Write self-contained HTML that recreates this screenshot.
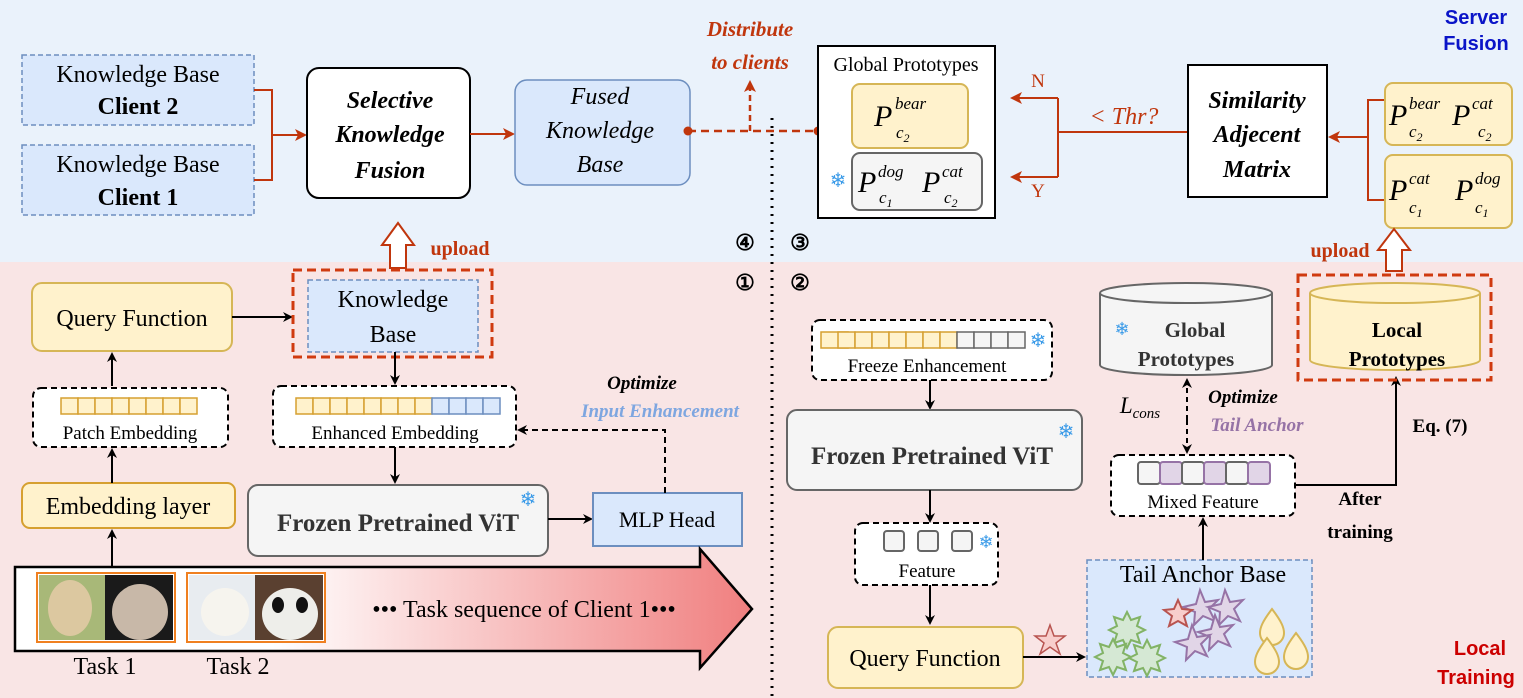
<!DOCTYPE html>
<html><head><meta charset="utf-8"><style>
body{margin:0;width:1523px;height:698px;overflow:hidden;background:#fff}
svg{display:block}
text{font-family:"Liberation Serif",serif}
.s{font-family:"Liberation Sans",sans-serif}
.P{font-size:30px;font-style:italic}
.sp{font-size:17px;font-style:italic}
</style></head><body>
<svg width="1523" height="698" viewBox="0 0 1523 698" xmlns="http://www.w3.org/2000/svg">
<defs>
<marker id="ab" markerWidth="10" markerHeight="10" refX="8" refY="5" orient="auto" markerUnits="userSpaceOnUse"><path d="M0,0 L10,5 L0,10 L3,5z" fill="#000"/></marker>
<marker id="ao" markerWidth="12" markerHeight="12" refX="10" refY="6" orient="auto" markerUnits="userSpaceOnUse"><path d="M0,0 L12,6 L0,12 L3,6z" fill="#c0360d"/></marker>
<linearGradient id="g" x1="0" x2="1"><stop offset="0.35" stop-color="#fff"/><stop offset="1" stop-color="#f07f7f"/></linearGradient>
</defs>
<rect x="0" y="0" width="1523" height="262" fill="#eaf2fb"/>
<rect x="0" y="262" width="1523" height="436" fill="#f9e5e5"/>
<text x="1476" y="24" class="s" font-size="20" font-weight="bold" fill="#0a14c8" text-anchor="middle">Server</text>
<text x="1476" y="50" class="s" font-size="20" font-weight="bold" fill="#0a14c8" text-anchor="middle">Fusion</text>
<text x="1480" y="655" class="s" font-size="20" font-weight="bold" fill="#cc0000" text-anchor="middle">Local</text>
<text x="1476" y="684" class="s" font-size="20" font-weight="bold" fill="#cc0000" text-anchor="middle">Training</text>

<rect x="22" y="55" width="232" height="70" fill="#dae8fc" stroke="#6c8ebf" stroke-width="1.5" stroke-dasharray="5,3"/>
<text x="138" y="82" font-size="24" text-anchor="middle">Knowledge Base</text>
<text x="138" y="114" font-size="24" font-weight="bold" text-anchor="middle">Client 2</text>
<rect x="22" y="145" width="232" height="70" fill="#dae8fc" stroke="#6c8ebf" stroke-width="1.5" stroke-dasharray="5,3"/>
<text x="138" y="172" font-size="24" text-anchor="middle">Knowledge Base</text>
<text x="138" y="205" font-size="24" font-weight="bold" text-anchor="middle">Client 1</text>
<path d="M254,90 H272 V180 H254 M272,135 H305" fill="none" stroke="#c0360d" stroke-width="2" marker-end="url(#ao)"/>
<rect x="307" y="68" width="163" height="130" rx="12" fill="#fff" stroke="#000" stroke-width="2"/>
<text x="390" y="108" font-size="24" font-weight="bold" font-style="italic" text-anchor="middle">Selective</text>
<text x="390" y="142" font-size="24" font-weight="bold" font-style="italic" text-anchor="middle">Knowledge</text>
<text x="390" y="178" font-size="24" font-weight="bold" font-style="italic" text-anchor="middle">Fusion</text>
<line x1="470" y1="134" x2="513" y2="134" stroke="#c0360d" stroke-width="2" marker-end="url(#ao)"/>
<rect x="515" y="80" width="175" height="105" rx="12" fill="#dae8fc" stroke="#6c8ebf" stroke-width="1.5"/>
<text x="600" y="104" font-size="24" font-style="italic" text-anchor="middle">Fused</text>
<text x="600" y="138" font-size="24" font-style="italic" text-anchor="middle">Knowledge</text>
<text x="600" y="172" font-size="24" font-style="italic" text-anchor="middle">Base</text>
<line x1="688" y1="131" x2="818" y2="131" stroke="#c0360d" stroke-width="2.5" stroke-dasharray="8,5"/>
<circle cx="688" cy="131" r="4.5" fill="#c0360d"/><circle cx="818" cy="131" r="4.5" fill="#c0360d"/>
<line x1="750" y1="131" x2="750" y2="82" stroke="#c0360d" stroke-width="2.5" stroke-dasharray="6,4" marker-end="url(#ao)"/>
<text x="750" y="36" font-size="21" font-weight="bold" font-style="italic" fill="#c0360d" text-anchor="middle">Distribute</text>
<text x="750" y="69" font-size="21" font-weight="bold" font-style="italic" fill="#c0360d" text-anchor="middle">to clients</text>

<rect x="818" y="46" width="177" height="172" fill="#fff" stroke="#000" stroke-width="2"/>
<text x="906" y="71" font-size="20" text-anchor="middle">Global Prototypes</text>
<rect x="852" y="84" width="116" height="64" rx="8" fill="#fff2cc" stroke="#d6b656" stroke-width="2"/>
<text x="874" y="126" class="P">P</text><text x="895" y="109" class="sp">bear</text><text x="896" y="138" class="sp">c<tspan font-size="12" dy="4">2</tspan></text>
<rect x="852" y="153" width="130" height="57" rx="8" fill="#f5f5f5" stroke="#666" stroke-width="2"/>
<text x="838" y="187" font-size="20" fill="#3b9be8" text-anchor="middle">❄</text>
<text x="858" y="192" class="P">P</text><text x="878" y="177" class="sp">dog</text><text x="879" y="203" class="sp">c<tspan font-size="12" dy="4">1</tspan></text>
<text x="922" y="192" class="P">P</text><text x="942" y="177" class="sp">cat</text><text x="944" y="203" class="sp">c<tspan font-size="12" dy="4">2</tspan></text>
<path d="M1188,132 H1058 M1058,98 V177" fill="none" stroke="#c0360d" stroke-width="2"/>
<line x1="1058" y1="98" x2="1012" y2="98" stroke="#c0360d" stroke-width="2" marker-end="url(#ao)"/>
<line x1="1058" y1="177" x2="1012" y2="177" stroke="#c0360d" stroke-width="2" marker-end="url(#ao)"/>
<text x="1038" y="87" font-size="19" fill="#c0360d" text-anchor="middle">N</text>
<text x="1038" y="197" font-size="19" fill="#c0360d" text-anchor="middle">Y</text>
<text x="1124" y="124" font-size="24" font-style="italic" fill="#c0360d" text-anchor="middle">&lt; Thr?</text>
<rect x="1188" y="65" width="139" height="132" fill="#fff" stroke="#000" stroke-width="2"/>
<text x="1257" y="108" font-size="24" font-weight="bold" font-style="italic" text-anchor="middle">Similarity</text>
<text x="1257" y="142" font-size="24" font-weight="bold" font-style="italic" text-anchor="middle">Adjecent</text>
<text x="1257" y="177" font-size="24" font-weight="bold" font-style="italic" text-anchor="middle">Matrix</text>
<path d="M1385,100 H1368 V200 H1385 M1368,137 H1330" fill="none" stroke="#c0360d" stroke-width="2" marker-end="url(#ao)"/>
<rect x="1385" y="83" width="127" height="62" rx="8" fill="#fff2cc" stroke="#d6b656" stroke-width="2"/>
<text x="1389" y="125" class="P">P</text><text x="1409" y="109" class="sp">bear</text><text x="1409" y="137" class="sp">c<tspan font-size="12" dy="4">2</tspan></text>
<text x="1452" y="125" class="P">P</text><text x="1472" y="109" class="sp">cat</text><text x="1478" y="137" class="sp">c<tspan font-size="12" dy="4">2</tspan></text>
<rect x="1385" y="155" width="127" height="73" rx="8" fill="#fff2cc" stroke="#d6b656" stroke-width="2"/>
<text x="1389" y="200" class="P">P</text><text x="1409" y="184" class="sp">cat</text><text x="1409" y="213" class="sp">c<tspan font-size="12" dy="4">1</tspan></text>
<text x="1455" y="200" class="P">P</text><text x="1475" y="184" class="sp">dog</text><text x="1475" y="213" class="sp">c<tspan font-size="12" dy="4">1</tspan></text>

<path d="M390,268 V245 H382 L398,223 L414,245 H406 V268 Z" fill="#fff" stroke="#c0360d" stroke-width="2"/>
<text x="460" y="255" font-size="20" font-weight="bold" fill="#c0360d" text-anchor="middle">upload</text>
<path d="M1386,271 V250 H1378 L1394,229 L1410,250 H1402 V271 Z" fill="#fff" stroke="#c0360d" stroke-width="2"/>
<text x="1340" y="257" font-size="20" font-weight="bold" fill="#c0360d" text-anchor="middle">upload</text>

<line x1="772" y1="118" x2="772" y2="698" stroke="#000" stroke-width="3" stroke-dasharray="2,6"/>
<text x="745" y="250" font-size="22" font-weight="bold" text-anchor="middle">④</text>
<text x="800" y="250" font-size="22" font-weight="bold" text-anchor="middle">③</text>
<text x="745" y="290" font-size="22" font-weight="bold" text-anchor="middle">①</text>
<text x="800" y="290" font-size="22" font-weight="bold" text-anchor="middle">②</text>

<rect x="32" y="283" width="200" height="68" rx="10" fill="#fff2cc" stroke="#d6b656" stroke-width="2"/>
<text x="132" y="326" font-size="24" text-anchor="middle">Query Function</text>
<line x1="232" y1="317" x2="291" y2="317" stroke="#000" stroke-width="2" marker-end="url(#ab)"/>
<rect x="293" y="270" width="199" height="87" fill="none" stroke="#d03a10" stroke-width="3" stroke-dasharray="9,5"/>
<rect x="308" y="280" width="170" height="72" fill="#dae8fc" stroke="#6c8ebf" stroke-width="1.5" stroke-dasharray="5,3"/>
<text x="393" y="307" font-size="24" text-anchor="middle">Knowledge</text>
<text x="393" y="342" font-size="24" text-anchor="middle">Base</text>
<rect x="33" y="388" width="195" height="59" rx="8" fill="#fff" stroke="#000" stroke-width="2" stroke-dasharray="6,4"/>
<g fill="#fff2cc" stroke="#d6a030" stroke-width="1.5">
<rect x="61" y="398" width="17" height="16"/><rect x="78" y="398" width="17" height="16"/><rect x="95" y="398" width="17" height="16"/><rect x="112" y="398" width="17" height="16"/><rect x="129" y="398" width="17" height="16"/><rect x="146" y="398" width="17" height="16"/><rect x="163" y="398" width="17" height="16"/><rect x="180" y="398" width="17" height="16"/></g>
<text x="130" y="439" font-size="19" text-anchor="middle">Patch Embedding</text>
<line x1="112" y1="386" x2="112" y2="354" stroke="#000" stroke-width="2" marker-end="url(#ab)"/>
<rect x="22" y="483" width="213" height="45" rx="8" fill="#fff2cc" stroke="#d6a030" stroke-width="2"/>
<text x="128" y="514" font-size="24" text-anchor="middle">Embedding layer</text>
<line x1="112" y1="483" x2="112" y2="450" stroke="#000" stroke-width="2" marker-end="url(#ab)"/>
<line x1="112" y1="566" x2="112" y2="531" stroke="#000" stroke-width="2" marker-end="url(#ab)"/>
<line x1="395" y1="352" x2="395" y2="383" stroke="#000" stroke-width="2" marker-end="url(#ab)"/>
<rect x="273" y="386" width="243" height="61" rx="8" fill="#fff" stroke="#000" stroke-width="2" stroke-dasharray="6,4"/>
<g stroke-width="1.5"><g fill="#fff2cc" stroke="#d6a030">
<rect x="296" y="398" width="17" height="16"/><rect x="313" y="398" width="17" height="16"/><rect x="330" y="398" width="17" height="16"/><rect x="347" y="398" width="17" height="16"/><rect x="364" y="398" width="17" height="16"/><rect x="381" y="398" width="17" height="16"/><rect x="398" y="398" width="17" height="16"/><rect x="415" y="398" width="17" height="16"/></g>
<g fill="#dae8fc" stroke="#6c8ebf"><rect x="432" y="398" width="17" height="16"/><rect x="449" y="398" width="17" height="16"/><rect x="466" y="398" width="17" height="16"/><rect x="483" y="398" width="17" height="16"/></g></g>
<text x="395" y="439" font-size="19" text-anchor="middle">Enhanced Embedding</text>
<line x1="395" y1="447" x2="395" y2="482" stroke="#000" stroke-width="2" marker-end="url(#ab)"/>
<rect x="248" y="485" width="300" height="71" rx="10" fill="#f5f5f5" stroke="#666" stroke-width="2"/>
<text x="398" y="531" font-size="25" font-weight="bold" text-anchor="middle" fill="#333">Frozen Pretrained ViT</text>
<text x="528" y="506" font-size="20" fill="#3b9be8" text-anchor="middle">❄</text>
<line x1="548" y1="519" x2="591" y2="519" stroke="#000" stroke-width="2" marker-end="url(#ab)"/>
<rect x="593" y="493" width="149" height="53" fill="#dae8fc" stroke="#6c8ebf" stroke-width="2"/>
<text x="667" y="527" font-size="22" text-anchor="middle">MLP Head</text>
<path d="M665,493 V430 H519" fill="none" stroke="#000" stroke-width="2" stroke-dasharray="6,4" marker-end="url(#ab)"/>
<text x="642" y="389" font-size="19" font-weight="bold" font-style="italic" text-anchor="middle">Optimize</text>
<text x="660" y="417" font-size="19" font-weight="bold" font-style="italic" fill="#7ea6e0" text-anchor="middle">Input Enhancement</text>

<path d="M15,567 H700 V549 L752,609 L700,668 V651 H15 Z" fill="url(#g)" stroke="#000" stroke-width="2.5"/>
<rect x="37" y="573" width="138" height="69" fill="#fff" stroke="#f08020" stroke-width="2"/>
<rect x="39" y="575" width="66" height="65" fill="#a8b878"/><ellipse cx="70" cy="608" rx="22" ry="28" fill="#dcc8a0"/>
<rect x="105" y="575" width="68" height="65" fill="#1a1a1a"/><ellipse cx="140" cy="612" rx="28" ry="28" fill="#c8b8a8"/>
<rect x="187" y="573" width="138" height="69" fill="#fff" stroke="#f08020" stroke-width="2"/>
<rect x="189" y="575" width="66" height="65" fill="#e8ecf0"/><ellipse cx="225" cy="612" rx="24" ry="24" fill="#f6f4ee"/>
<rect x="255" y="575" width="68" height="65" fill="#5a4030"/><ellipse cx="290" cy="614" rx="28" ry="26" fill="#eeeeea"/><ellipse cx="278" cy="605" rx="6" ry="8" fill="#111"/><ellipse cx="302" cy="605" rx="6" ry="8" fill="#111"/>
<text x="524" y="617" font-size="24" text-anchor="middle">••• Task sequence of Client 1•••</text>
<text x="105" y="674" font-size="24" text-anchor="middle">Task 1</text>
<text x="238" y="674" font-size="24" text-anchor="middle">Task 2</text>

<rect x="812" y="320" width="240" height="60" rx="8" fill="#fff" stroke="#000" stroke-width="2" stroke-dasharray="6,4"/>
<g stroke-width="1.5"><g fill="#fff2cc" stroke="#d6a030">
<rect x="821" y="332" width="27" height="16"/><rect x="838" y="332" width="17" height="16"/><rect x="855" y="332" width="17" height="16"/><rect x="872" y="332" width="17" height="16"/><rect x="889" y="332" width="17" height="16"/><rect x="906" y="332" width="17" height="16"/><rect x="923" y="332" width="17" height="16"/><rect x="940" y="332" width="17" height="16"/></g>
<g fill="#f5f5f5" stroke="#666"><rect x="957" y="332" width="17" height="16"/><rect x="974" y="332" width="17" height="16"/><rect x="991" y="332" width="17" height="16"/><rect x="1008" y="332" width="17" height="16"/></g></g>
<text x="1038" y="347" font-size="20" fill="#3b9be8" text-anchor="middle">❄</text>
<text x="927" y="372" font-size="19" text-anchor="middle">Freeze Enhancement</text>
<line x1="930" y1="380" x2="930" y2="408" stroke="#000" stroke-width="2" marker-end="url(#ab)"/>
<rect x="787" y="410" width="295" height="80" rx="10" fill="#f5f5f5" stroke="#666" stroke-width="2"/>
<text x="932" y="464" font-size="25" font-weight="bold" text-anchor="middle" fill="#333">Frozen Pretrained ViT</text>
<text x="1066" y="438" font-size="20" fill="#3b9be8" text-anchor="middle">❄</text>
<line x1="930" y1="490" x2="930" y2="521" stroke="#000" stroke-width="2" marker-end="url(#ab)"/>
<rect x="855" y="523" width="143" height="62" rx="8" fill="#fff" stroke="#000" stroke-width="2" stroke-dasharray="6,4"/>
<g fill="#f5f5f5" stroke="#666" stroke-width="2"><rect x="884" y="531" width="20" height="20" rx="3"/><rect x="918" y="531" width="20" height="20" rx="3"/><rect x="952" y="531" width="20" height="20" rx="3"/></g>
<text x="986" y="548" font-size="18" fill="#3b9be8" text-anchor="middle">❄</text>
<text x="927" y="577" font-size="19" text-anchor="middle">Feature</text>
<line x1="930" y1="585" x2="930" y2="623" stroke="#000" stroke-width="2" marker-end="url(#ab)"/>
<rect x="828" y="627" width="195" height="61" rx="10" fill="#fff2cc" stroke="#d6b656" stroke-width="2"/>
<text x="925" y="666" font-size="24" text-anchor="middle">Query Function</text>
<path d="M1050,625 L1054,636 L1065,636 L1056,643 L1060,654 L1050,647 L1040,654 L1044,643 L1035,636 L1046,636Z" fill="#f8cecc" stroke="#b85450" stroke-width="1.5"/>
<line x1="1023" y1="657" x2="1084" y2="657" stroke="#000" stroke-width="2" marker-end="url(#ab)"/>
<rect x="1087" y="560" width="225" height="117" fill="#dae8fc" stroke="#6c8ebf" stroke-width="1.5" stroke-dasharray="5,3"/>
<text x="1203" y="582" font-size="24" text-anchor="middle">Tail Anchor Base</text>
<g fill="#d5e8d4" stroke="#82b366" stroke-width="2">
<path d="M1127,612 l4,8 9,-3 -3,9 8,4 -8,4 3,9 -9,-3 -4,8 -4,-8 -9,3 3,-9 -8,-4 8,-4 -3,-9 9,3z"/>
<path d="M1113,639 l4,8 9,-3 -3,9 8,4 -8,4 3,9 -9,-3 -4,8 -4,-8 -9,3 3,-9 -8,-4 8,-4 -3,-9 9,3z"/>
<path d="M1147,640 l4,8 9,-3 -3,9 8,4 -8,4 3,9 -9,-3 -4,8 -4,-8 -9,3 3,-9 -8,-4 8,-4 -3,-9 9,3z"/></g>
<g fill="#e1d5e7" stroke="#9673a6" stroke-width="2">
<path d="M1200,590 l5,12 13,-2 -9,9 6,12 -12,-5 -9,9 1,-13 -12,-5 13,-3z"/>
<path d="M1225,590 l5,12 13,-2 -9,9 6,12 -12,-5 -9,9 1,-13 -12,-5 13,-3z"/>
<path d="M1215,615 l5,12 13,-2 -9,9 6,12 -12,-5 -9,9 1,-13 -12,-5 13,-3z"/>
<path d="M1192,625 l5,12 13,-2 -9,9 6,12 -12,-5 -9,9 1,-13 -12,-5 13,-3z"/></g>
<path d="M1178,600 l4,9 10,1 -8,6 3,10 -9,-5 -9,5 3,-10 -8,-6 10,-1z" fill="#f8cecc" stroke="#b85450" stroke-width="2"/>
<g fill="#fff2cc" stroke="#d6b656" stroke-width="2">
<path d="M1272,609 C1262,622 1260,628 1260,633 A12,12 0 0 0 1284,633 C1284,628 1282,622 1272,609Z"/>
<path d="M1267,638 C1257,651 1255,657 1255,662 A12,12 0 0 0 1279,662 C1279,657 1277,651 1267,638Z"/>
<path d="M1296,633 C1286,646 1284,652 1284,657 A12,12 0 0 0 1308,657 C1308,652 1306,646 1296,633Z"/></g>
<line x1="1203" y1="560" x2="1203" y2="519" stroke="#000" stroke-width="2" marker-end="url(#ab)"/>
<rect x="1111" y="455" width="184" height="61" rx="8" fill="#fff" stroke="#000" stroke-width="2" stroke-dasharray="6,4"/>
<g stroke-width="2"><rect x="1138" y="462" width="22" height="22" rx="3" fill="#f5f5f5" stroke="#666"/><rect x="1160" y="462" width="22" height="22" rx="3" fill="#e1d5e7" stroke="#9673a6"/><rect x="1182" y="462" width="22" height="22" rx="3" fill="#f5f5f5" stroke="#666"/><rect x="1204" y="462" width="22" height="22" rx="3" fill="#e1d5e7" stroke="#9673a6"/><rect x="1226" y="462" width="22" height="22" rx="3" fill="#f5f5f5" stroke="#666"/><rect x="1248" y="462" width="22" height="22" rx="3" fill="#e1d5e7" stroke="#9673a6"/></g>
<text x="1203" y="508" font-size="19" text-anchor="middle">Mixed Feature</text>
<path d="M1295,485 H1396 V378" fill="none" stroke="#000" stroke-width="2" marker-end="url(#ab)"/>
<text x="1440" y="432" font-size="19" font-weight="bold" text-anchor="middle">Eq. (7)</text>
<text x="1360" y="505" font-size="19" font-weight="bold" text-anchor="middle">After</text>
<text x="1360" y="538" font-size="19" font-weight="bold" text-anchor="middle">training</text>
<path d="M1100,293 V365 A86,10 0 0 0 1272,365 V293" fill="#f5f5f5" stroke="#666" stroke-width="2"/>
<ellipse cx="1186" cy="293" rx="86" ry="10" fill="#f5f5f5" stroke="#666" stroke-width="2"/>
<text x="1122" y="335" font-size="18" fill="#3b9be8" text-anchor="middle">❄</text>
<text x="1195" y="337" font-size="21" font-weight="bold" text-anchor="middle" fill="#333">Global</text>
<text x="1186" y="366" font-size="21" font-weight="bold" text-anchor="middle" fill="#333">Prototypes</text>
<rect x="1298" y="275" width="193" height="105" fill="none" stroke="#d03a10" stroke-width="3" stroke-dasharray="9,5"/>
<path d="M1310,293 V360 A85,10 0 0 0 1480,360 V293" fill="#fff2cc" stroke="#d6b656" stroke-width="2"/>
<ellipse cx="1395" cy="293" rx="85" ry="10" fill="#fff2cc" stroke="#d6b656" stroke-width="2"/>
<text x="1397" y="337" font-size="21" font-weight="bold" text-anchor="middle">Local</text>
<text x="1397" y="366" font-size="21" font-weight="bold" text-anchor="middle">Prototypes</text>
<line x1="1187" y1="420" x2="1187" y2="380" stroke="#000" stroke-width="2" stroke-dasharray="5,4" marker-end="url(#ab)"/>
<line x1="1187" y1="420" x2="1187" y2="452" stroke="#000" stroke-width="2" stroke-dasharray="5,4" marker-end="url(#ab)"/>
<text x="1140" y="413" font-size="23" font-style="italic" text-anchor="middle">L<tspan font-size="15" dy="5">cons</tspan></text>
<text x="1243" y="403" font-size="19" font-weight="bold" font-style="italic" text-anchor="middle">Optimize</text>
<text x="1257" y="431" font-size="19" font-weight="bold" font-style="italic" fill="#9673a6" text-anchor="middle">Tail Anchor</text>
</svg>
</body></html>
